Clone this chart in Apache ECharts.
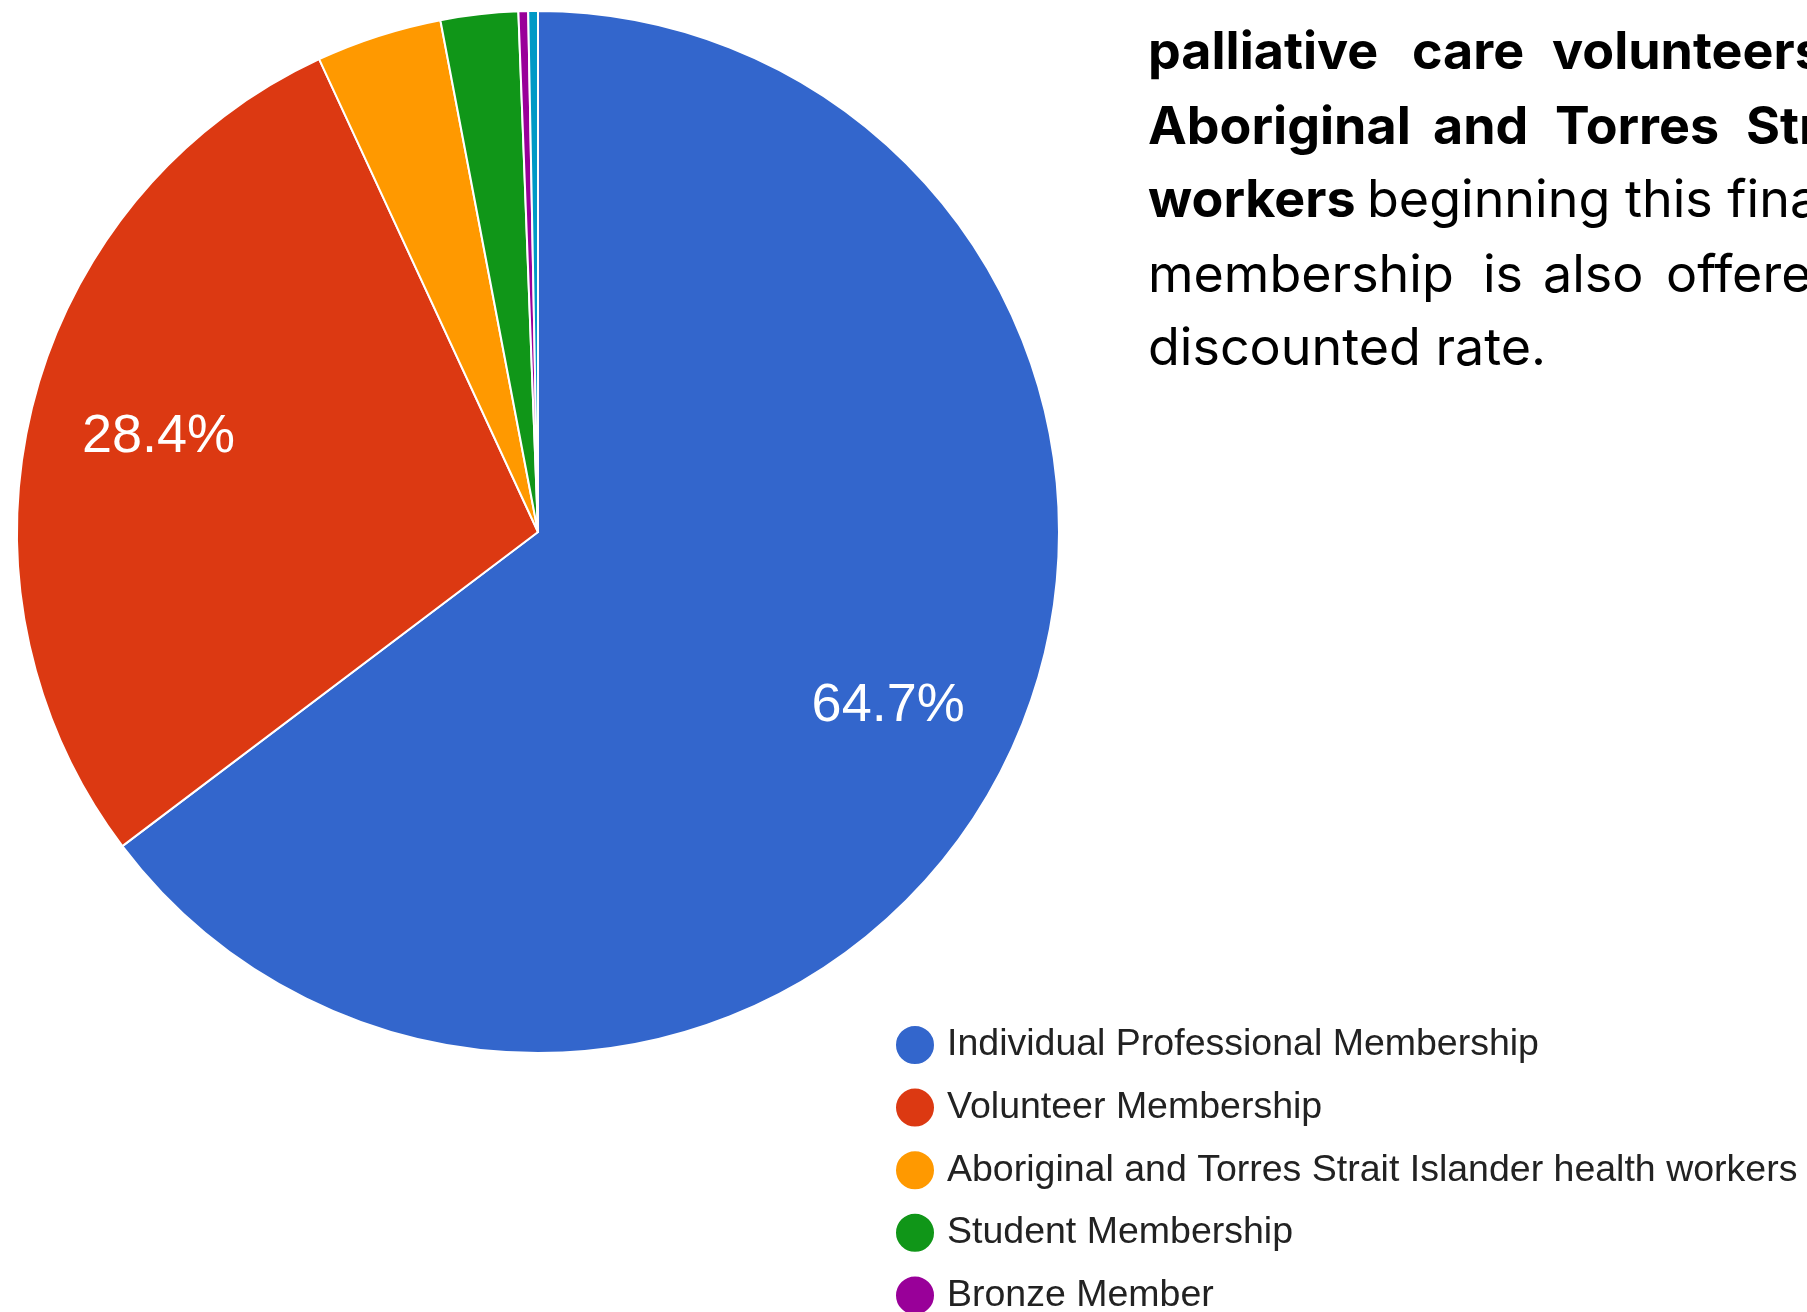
<!DOCTYPE html>
<html>
<head>
<meta charset="utf-8">
<title>Membership breakdown</title>
<script src="https://cdn.jsdelivr.net/npm/echarts@6/dist/echarts.min.js"></script>
<style>
  html, body { margin: 0; padding: 0; background: #fff; overflow: hidden; }
  #chart { width: 1807px; height: 1312px; }
</style>
</head>
<body>
<div id="chart"></div>
<script>
// membership categories (last one is cut off in the source picture)
const categories = [
  'Individual Professional Membership',
  'Volunteer Membership',
  'Aboriginal and Torres Strait Islander health workers',
  'Student Membership',
  'Bronze Member',
  'Other'
]
// share of members, %
const shares = [64.7, 28.4, 3.9, 2.4, 0.3, 0.3]
const colors = ['#3366cc', '#dc3912', '#ff9900', '#109618', '#990099', '#0099c6']

// paragraph beside the chart: [words, left x, bold]
const paraLines = [
  [['palliative', 1148, 1], ['care', 1412, 1], ['volunteers', 1552, 1]],
  [['Aboriginal', 1148, 1], ['and', 1433, 1], ['Torres', 1555, 1], ['Strait', 1746, 1]],
  [['workers', 1148, 1], ['beginning this financial', 1367, 0]],
  [['membership', 1148, 0], ['is', 1483, 0], ['also', 1543, 0], ['offered', 1666, 0]],
  [['discounted rate.', 1148, 0]]
]
const paraBaselines = [72, 147, 220, 295, 368]
const paraSize = 52

const pieData = categories.map((name, i) => ({ name: name, value: shares[i] }))
const R = 521
const center = [538, 532]

const graphic = []
paraLines.forEach((line, li) => {
  line.forEach(w => {
    graphic.push({
      type: 'text',
      x: w[1],
      y: paraBaselines[li] - paraSize * 0.36,
      silent: true,
      style: {
        text: w[0],
        fill: '#000',
        font: (w[2] ? '700 ' : '400 ') + paraSize + 'px Inter',
        verticalAlign: 'middle'
      }
    })
  })
})

const chart = echarts.init(document.getElementById('chart'))
chart.setOption({
  animation: false,
  color: colors,
  legend: {
    orient: 'vertical',
    left: 889,
    top: 1019,
    height: 600,
    data: categories.slice(0, 5),
    icon: 'circle',
    itemWidth: 40,
    itemHeight: 40,
    itemGap: 20.6,
    textStyle: {
      fontFamily: 'Liberation Sans, Arial',
      fontSize: 37.5,
      color: '#222',
      lineHeight: 40,
      padding: [0, 0, 0, 7]
    },
    selectedMode: false
  },
  graphic: graphic,
  series: [
    {
      type: 'pie',
      center: center,
      radius: [0, R],
      startAngle: 90,
      clockwise: true,
      percentPrecision: 1,
      label: { show: false },
      labelLine: { show: false },
      itemStyle: { borderColor: '#fff', borderWidth: 2 },
      emphasis: { disabled: true },
      data: pieData
    },
    {
      // label carrier: puts the percentage at ~3/4 of the radius like the source
      type: 'pie',
      center: center,
      radius: [R * 0.49, R],
      startAngle: 90,
      clockwise: true,
      percentPrecision: 1,
      silent: true,
      itemStyle: { color: 'rgba(0,0,0,0)', borderWidth: 0 },
      labelLine: { show: false },
      label: {
        show: true,
        position: 'inside',
        color: '#fff',
        fontFamily: 'Liberation Sans, Arial',
        fontSize: 54,
        formatter: p => p.percent >= 5 ? p.percent.toFixed(1) + '%' : ''
      },
      emphasis: { disabled: true },
      data: pieData
    }
  ]
})
</script>
</body>
</html>
